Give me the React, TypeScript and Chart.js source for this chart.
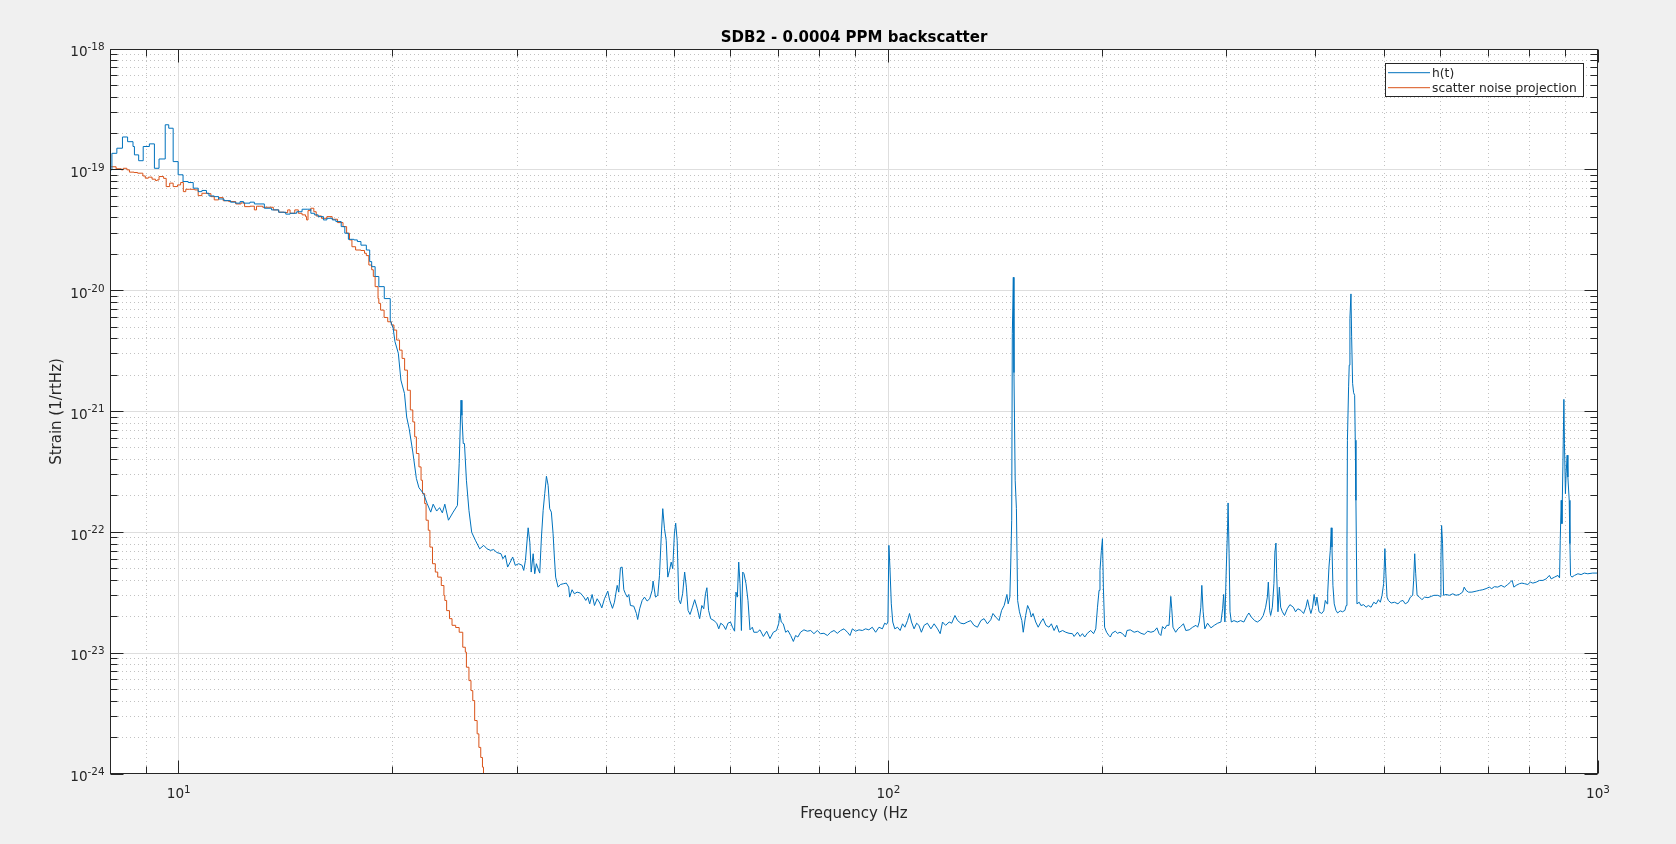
import React, { useEffect, useRef } from "react";
import { Chart, registerables } from "chart.js";

Chart.register(...registerables);

// ---------- text ----------
const TITLE = "SDB2 - 0.0004 PPM backscatter";
const X_LABEL = "Frequency (Hz";
const Y_LABEL = "Strain (1/rtHz)";
const SERIES_NAMES = ["h(t)", "scatter noise projection"];
const SERIES_COLORS = ["#0072BD", "#D95319"];

// ---------- axes ----------
const X_MIN = 8;
const X_MAX = 1000;
const Y_MIN = 1e-24;
const Y_MAX = 1e-18;
const X_MAJOR_TICKS = [10, 100, 1000];
const X_TICK_EXPONENTS = ["1", "2", "3"];
const X_MINOR_TICKS = [8, 9, 20, 30, 40, 50, 60, 70, 80, 90, 200, 300, 400, 500, 600, 700, 800, 900];
const Y_MAJOR_TICKS = [1e-24, 1e-23, 1e-22, 1e-21, 1e-20, 1e-19, 1e-18];
const Y_TICK_EXPONENTS = ["-24", "-23", "-22", "-21", "-20", "-19", "-18"];
const Y_MINOR_MANTISSAS = [2, 3, 4, 5, 6, 7, 8, 9];

// ---------- h(t) : [frequency Hz, strain 1/rtHz] ----------
const HT_8_20: [number, number][] = [
  [8.0, 1.0e-19], [8.05, 1.37e-19], [8.18, 1.51e-19], [8.33, 1.87e-19], [8.47, 1.71e-19],
  [8.62, 1.56e-19], [8.66, 1.33e-19], [8.78, 1.19e-19], [8.91, 1.56e-19], [9.09, 1.64e-19],
  [9.24, 1.03e-19], [9.38, 1.23e-19], [9.57, 2.36e-19], [9.68, 2.21e-19], [9.82, 1.17e-19],
  [9.98, 9.1e-20], [10.14, 8.0e-20], [10.31, 7.85e-20], [10.48, 7.05e-20], [10.65, 6.6e-20],
  [10.78, 6.75e-20], [10.94, 6.4e-20], [11.03, 6.08e-20], [11.22, 6.0e-20], [11.38, 5.74e-20],
  [11.58, 5.56e-20], [11.83, 5.4e-20], [12.03, 5.3e-20], [12.2, 5.46e-20], [12.34, 5.3e-20],
  [12.6, 5.4e-20], [12.78, 5.22e-20], [13.2, 4.81e-20], [13.51, 4.66e-20], [13.83, 4.46e-20],
  [14.15, 4.3e-20], [14.35, 4.37e-20], [14.66, 4.5e-20], [14.92, 4.72e-20], [15.17, 4.72e-20],
  [15.35, 4.37e-20], [15.53, 4.24e-20], [15.72, 4.1e-20], [15.99, 3.85e-20], [16.17, 3.97e-20],
  [16.46, 3.85e-20], [16.65, 3.73e-20], [16.94, 3.39e-20], [17.14, 2.99e-20], [17.34, 2.66e-20],
  [17.65, 2.63e-20], [17.85, 2.55e-20], [18.06, 2.38e-20], [18.38, 2.17e-20], [18.58, 1.74e-20],
  [18.7, 1.58e-20], [18.91, 1.31e-20], [19.14, 1.08e-20], [19.48, 8.6e-21],
];

const HT_20_35: [number, number][] = [
  [19.86, 5.7e-21], [20.05, 4.88e-21], [20.17, 3.78e-21], [20.39, 3.03e-21], [20.56, 1.82e-21],
  [20.8, 1.41e-21], [20.95, 9.0e-22], [21.12, 7.2e-22], [21.37, 4.62e-22], [21.62, 2.79e-22],
  [21.8, 2.34e-22], [22.13, 2.09e-22], [22.39, 1.73e-22], [22.65, 1.47e-22], [22.83, 1.71e-22],
  [23.09, 1.5e-22], [23.31, 1.6e-22], [23.52, 1.45e-22], [23.71, 1.71e-22], [23.99, 1.26e-22],
  [24.36, 1.47e-22], [24.7, 1.67e-22], [24.84, 3.7e-22], [24.99, 1.24e-21], [25.06, 9.3e-22],
  [25.17, 5.43e-22], [25.27, 5.43e-22], [25.43, 2.7e-22], [25.64, 1.52e-22], [25.87, 1.0e-22],
  [26.18, 8.6e-23], [26.55, 7.3e-23], [26.9, 7.8e-23], [27.19, 7.3e-23], [27.5, 7.09e-23],
  [27.78, 7.2e-23], [28.08, 6.8e-23], [28.45, 6.65e-23], [28.63, 6.05e-23], [28.85, 6.45e-23],
  [29.07, 5.16e-23], [29.32, 5.67e-23], [29.55, 6.25e-23], [29.8, 5.33e-23], [30.13, 5.5e-23],
  [30.47, 5.33e-23], [30.63, 4.84e-23], [30.8, 5.86e-23], [31.07, 1.09e-22], [31.24, 8.3e-23],
  [31.38, 4.69e-23], [31.58, 6.65e-23], [31.74, 4.54e-23], [31.91, 5.5e-23], [32.08, 5.0e-23],
  [32.26, 4.6e-23], [32.44, 9.15e-23], [32.62, 1.52e-22], [32.79, 2.09e-22], [32.97, 2.91e-22],
  [33.15, 2.45e-22], [33.32, 1.57e-22], [33.5, 1.47e-22], [33.69, 9.75e-23], [33.83, 6.25e-23],
  [33.97, 4.26e-23], [34.24, 3.52e-23], [34.5, 3.7e-23], [34.87, 3.76e-23],
];

const HT_35_100: [number, number][] = [
  [35.17, 3.8e-23], [35.44, 3.52e-23], [35.55, 2.91e-23], [35.83, 3.35e-23], [36.1, 3.1e-23],
  [36.42, 3.2e-23], [36.82, 3.14e-23], [37.22, 2.91e-23], [37.46, 2.73e-23], [37.7, 2.91e-23],
  [37.94, 2.56e-23], [38.24, 3.06e-23], [38.53, 2.48e-23], [38.87, 2.82e-23], [39.2, 2.6e-23],
  [39.46, 2.37e-23], [39.8, 2.82e-23], [40.23, 3.26e-23], [40.49, 2.73e-23], [40.85, 2.35e-23],
  [41.11, 2.64e-23], [41.48, 3.64e-23], [41.69, 3.2e-23], [41.92, 5.1e-23], [42.15, 5.16e-23],
  [42.38, 3.35e-23], [42.61, 3.1e-23], [42.85, 2.91e-23], [43.07, 3.06e-23], [43.3, 2.48e-23],
  [43.77, 2.45e-23], [44.15, 2.13e-23], [44.33, 1.9e-23], [44.62, 2.33e-23], [44.98, 2.73e-23],
  [45.32, 2.91e-23], [45.71, 2.7e-23], [46.09, 2.82e-23], [46.46, 3.31e-23], [46.6, 3.95e-23],
  [46.97, 2.91e-23], [47.32, 3.01e-23], [47.58, 4.4e-23], [47.85, 9.15e-23], [48.09, 1.57e-22],
  [48.36, 1.07e-22], [48.63, 8.59e-23], [48.88, 4.26e-23], [49.15, 4.84e-23], [49.42, 5.67e-23],
  [49.67, 5.0e-23], [49.94, 9.75e-23], [50.15, 1.19e-22], [50.39, 8.59e-23], [50.66, 2.77e-23],
  [50.95, 2.56e-23], [51.29, 3.1e-23], [51.63, 4.69e-23], [51.92, 3.52e-23], [52.2, 2.26e-23],
  [52.54, 2.09e-23], [52.95, 2.4e-23], [53.34, 2.77e-23], [53.8, 2.33e-23], [54.2, 1.93e-23],
  [54.59, 2.48e-23], [54.93, 2.33e-23], [55.24, 3.1e-23], [55.49, 3.48e-23], [55.8, 2.26e-23],
  [56.18, 1.93e-23], [56.79, 1.86e-23], [57.3, 1.77e-23], [57.67, 1.59e-23], [58.04, 1.77e-23],
  [58.55, 1.7e-23], [58.98, 1.57e-23], [59.41, 1.77e-23], [59.91, 1.81e-23], [60.3, 1.64e-23],
  [60.71, 1.52e-23], [60.98, 3.2e-23], [61.26, 2.91e-23], [61.53, 5.67e-23], [61.79, 3.76e-23],
  [62.07, 1.54e-23], [62.34, 4.69e-23], [62.6, 4.54e-23], [63.0, 3.76e-23], [63.41, 2.73e-23],
  [63.82, 1.56e-23], [64.31, 1.64e-23], [64.63, 1.49e-23], [65.35, 1.49e-23], [65.92, 1.56e-23],
  [66.66, 1.375e-23], [67.38, 1.52e-23], [68.1, 1.32e-23], [68.84, 1.49e-23], [69.56, 1.54e-23],
  [70.07, 1.77e-23], [70.31, 2.13e-23], [70.64, 1.81e-23], [71.1, 1.75e-23], [71.65, 1.49e-23],
  [72.19, 1.54e-23], [72.83, 1.4e-23], [73.47, 1.25e-23], [74.0, 1.4e-23], [74.55, 1.36e-23],
  [75.2, 1.49e-23], [76.03, 1.56e-23], [76.88, 1.52e-23], [77.71, 1.54e-23], [78.54, 1.45e-23],
  [79.4, 1.54e-23], [80.24, 1.45e-23], [81.13, 1.46e-23], [82.04, 1.4e-23], [82.93, 1.49e-23],
  [83.82, 1.54e-23], [84.73, 1.46e-23], [85.65, 1.54e-23], [86.59, 1.59e-23], [87.55, 1.49e-23],
  [88.29, 1.4e-23], [88.97, 1.59e-23], [89.9, 1.52e-23], [90.9, 1.56e-23], [91.9, 1.54e-23],
  [92.87, 1.59e-23], [93.86, 1.56e-23], [94.9, 1.64e-23], [95.95, 1.49e-23], [97.0, 1.64e-23],
  [98.07, 1.59e-23], [98.8, 1.77e-23], [99.43, 1.73e-23], [99.84, 1.81e-23],
];

const HT_100_200: [number, number][] = [
  [100.16, 7.8e-23], [100.5, 5.16e-23], [100.95, 2.56e-23], [101.43, 1.81e-23], [102.1, 1.59e-23],
  [103.0, 1.64e-23], [103.9, 1.54e-23], [104.7, 1.75e-23], [105.5, 1.64e-23], [106.4, 1.86e-23],
  [107.1, 2.13e-23], [107.8, 1.81e-23], [108.7, 1.59e-23], [109.6, 1.77e-23], [110.4, 1.7e-23],
  [111.3, 1.49e-23], [112.3, 1.7e-23], [113.5, 1.77e-23], [114.8, 1.59e-23], [116.0, 1.75e-23],
  [117.3, 1.59e-23], [118.3, 1.45e-23], [119.2, 1.81e-23], [120.4, 1.7e-23], [121.8, 1.81e-23],
  [122.8, 1.77e-23], [124.1, 2.05e-23], [125.2, 1.86e-23], [126.5, 1.77e-23], [127.8, 1.75e-23],
  [129.2, 1.81e-23], [130.6, 1.86e-23], [132.0, 1.7e-23], [133.5, 1.64e-23], [135.0, 1.86e-23],
  [136.4, 1.93e-23], [137.9, 1.75e-23], [139.4, 1.89e-23], [140.4, 2.13e-23], [141.7, 1.99e-23],
  [143.2, 1.86e-23], [144.4, 2.26e-23], [145.6, 2.48e-23], [146.9, 3.06e-23], [147.5, 2.56e-23],
  [148.3, 2.91e-23], [148.7, 5.16e-23], [149.2, 1.26e-22], [149.5, 4.4e-21], [150.0, 1.29e-20],
  [150.3, 2.1e-21], [150.9, 2.7e-22], [151.5, 1.57e-22], [152.1, 2.73e-23], [153.0, 2.2e-23],
  [154.2, 1.86e-23], [154.9, 1.49e-23], [156.1, 2.05e-23], [157.1, 2.48e-23], [158.2, 2.26e-23],
  [159.0, 1.99e-23], [159.9, 2.13e-23], [161.3, 1.81e-23], [162.6, 1.64e-23], [164.0, 1.81e-23],
  [165.2, 1.93e-23], [166.7, 1.7e-23], [168.4, 1.64e-23], [169.7, 1.75e-23], [171.2, 1.54e-23],
  [172.7, 1.7e-23], [174.0, 1.49e-23], [176.0, 1.54e-23], [177.8, 1.49e-23], [179.7, 1.46e-23],
  [181.7, 1.45e-23], [182.7, 1.375e-23], [184.7, 1.49e-23], [186.3, 1.375e-23], [187.7, 1.45e-23],
  [189.1, 1.36e-23], [190.7, 1.46e-23], [192.8, 1.54e-23], [194.6, 1.45e-23], [196.0, 1.59e-23],
  [197.1, 2.4e-23], [198.1, 3.31e-23], [198.7, 4.84e-23], [199.6, 7.09e-23],
];

const HT_200_400: [number, number][] = [
  [200.3, 8.87e-23], [200.9, 3.52e-23], [201.7, 1.64e-23], [203.0, 1.49e-23], [204.5, 1.4e-23],
  [205.5, 1.36e-23], [206.6, 1.46e-23], [208.8, 1.52e-23], [210.3, 1.46e-23], [212.0, 1.49e-23],
  [213.8, 1.45e-23], [215.8, 1.36e-23], [216.9, 1.54e-23], [219.2, 1.56e-23], [222.0, 1.49e-23],
  [224.5, 1.52e-23], [227.0, 1.46e-23], [229.4, 1.43e-23], [232.0, 1.52e-23], [234.4, 1.49e-23],
  [236.9, 1.52e-23], [239.0, 1.62e-23], [240.7, 1.45e-23], [242.1, 1.4e-23], [243.4, 1.66e-23],
  [245.2, 1.59e-23], [246.8, 1.7e-23], [248.6, 1.7e-23], [250.0, 2.95e-23], [250.8, 2.33e-23],
  [251.8, 1.64e-23], [254.0, 1.49e-23], [255.9, 1.59e-23], [258.1, 1.66e-23], [260.5, 1.75e-23],
  [262.5, 1.54e-23], [265.4, 1.56e-23], [268.4, 1.64e-23], [271.3, 1.7e-23], [272.8, 1.64e-23],
  [274.2, 1.81e-23], [275.6, 2.4e-23], [276.5, 3.64e-23], [277.7, 2.2e-23], [279.2, 1.59e-23],
  [281.7, 1.77e-23], [284.8, 1.62e-23], [287.9, 1.7e-23], [291.1, 1.77e-23], [294.2, 1.81e-23],
  [295.8, 2.33e-23], [296.8, 3.06e-23], [298.0, 1.81e-23], [299.2, 4.54e-23], [300.6, 1.11e-22],
  [301.1, 1.75e-22], [302.1, 6.65e-23], [303.0, 2.2e-23], [304.3, 1.81e-23], [306.9, 1.86e-23],
  [310.3, 1.81e-23], [313.6, 1.86e-23], [316.9, 1.81e-23], [320.4, 2.05e-23], [322.1, 2.15e-23],
  [324.7, 1.99e-23], [328.2, 1.86e-23], [331.1, 1.81e-23], [334.6, 1.89e-23], [337.5, 2.05e-23],
  [340.1, 2.4e-23], [342.0, 2.91e-23], [343.1, 3.87e-23], [344.6, 2.26e-23], [345.7, 2.05e-23],
  [347.6, 2.4e-23], [349.4, 3.76e-23], [350.5, 6.87e-23], [351.7, 8.15e-23], [352.5, 4.54e-23],
  [354.0, 2.2e-23], [355.6, 3.52e-23], [357.1, 2.4e-23], [359.1, 2.2e-23], [361.6, 2.05e-23],
  [364.9, 2.33e-23], [368.0, 2.52e-23], [372.1, 2.4e-23], [374.8, 2.2e-23], [377.6, 2.33e-23],
  [381.3, 2.26e-23], [384.7, 2.13e-23], [387.6, 2.4e-23], [389.7, 2.77e-23], [391.8, 2.4e-23],
  [393.9, 2.13e-23], [396.1, 2.4e-23], [398.1, 3.06e-23],
];

const HT_400_1000: [number, number][] = [
  [400.0, 2.48e-23], [401.7, 2.91e-23], [404.4, 2.2e-23], [408.0, 2.13e-23], [410.7, 2.24e-23],
  [412.8, 2.73e-23], [415.1, 2.56e-23], [416.0, 3.14e-23], [417.7, 5.16e-23], [419.5, 7.09e-23],
  [420.8, 1.09e-22], [421.8, 7.55e-23], [423.1, 3.64e-23], [424.9, 2.56e-23], [427.3, 2.26e-23],
  [429.6, 2.15e-23], [433.2, 2.24e-23], [436.5, 2.2e-23], [439.9, 2.26e-23], [441.7, 2.48e-23],
  [442.8, 7.09e-23], [443.5, 5.78e-22], [445.2, 1.6e-21], [446.1, 2.42e-21], [447.1, 5.9e-21],
  [448.6, 9.4e-21], [449.6, 4.15e-21], [451.0, 1.71e-21], [452.5, 1.43e-21], [454.0, 1.36e-21],
  [454.9, 5.78e-22], [455.9, 1.84e-22], [457.4, 2.56e-23], [460.8, 2.64e-23], [463.3, 2.48e-23],
  [467.5, 2.52e-23], [471.1, 2.4e-23], [474.6, 2.48e-23], [478.8, 2.4e-23], [483.1, 2.64e-23],
  [486.8, 2.56e-23], [490.4, 2.77e-23], [493.5, 2.64e-23], [496.2, 3.01e-23], [498.8, 3.76e-23],
  [500.8, 7.33e-23], [502.4, 4.54e-23], [504.3, 2.91e-23], [506.5, 2.73e-23], [511.1, 2.6e-23],
  [516.7, 2.64e-23], [522.5, 2.56e-23], [527.0, 2.69e-23], [531.1, 2.73e-23], [535.0, 2.56e-23],
  [539.6, 2.64e-23], [544.0, 2.91e-23], [548.1, 3.01e-23], [549.8, 4.0e-23], [551.7, 6.65e-23],
  [553.5, 4.54e-23], [556.0, 3.01e-23], [560.3, 2.91e-23], [564.8, 2.77e-23], [569.6, 2.91e-23],
  [576.0, 2.88e-23], [582.1, 2.95e-23], [587.1, 3.01e-23], [594.6, 3.01e-23], [599.4, 2.95e-23],
  [600.7, 5.78e-23], [602.0, 1.14e-22], [603.9, 8.06e-23], [605.9, 3.01e-23], [610.6, 3.06e-23],
  [617.3, 3.01e-23], [624.2, 3.1e-23], [630.9, 3.01e-23], [637.6, 3.06e-23], [644.5, 3.2e-23],
  [647.8, 3.52e-23], [651.7, 3.31e-23], [656.8, 3.2e-23], [664.2, 3.2e-23], [673.6, 3.26e-23],
  [680.8, 3.31e-23], [688.2, 3.35e-23], [695.4, 3.42e-23], [702.7, 3.52e-23], [708.3, 3.42e-23],
  [714.4, 3.55e-23], [722.4, 3.52e-23], [730.2, 3.64e-23], [738.0, 3.52e-23], [746.0, 3.7e-23],
  [752.6, 3.87e-23], [756.8, 4.0e-23], [761.1, 3.52e-23], [766.8, 3.64e-23], [775.1, 3.76e-23],
  [781.2, 3.8e-23], [787.7, 3.76e-23], [796.2, 3.7e-23], [802.9, 3.87e-23], [809.4, 3.8e-23],
  [818.3, 3.87e-23], [827.2, 4.0e-23], [836.3, 4.0e-23], [845.2, 4.12e-23], [854.0, 4.4e-23],
  [859.1, 4.12e-23], [868.5, 4.26e-23], [878.1, 4.4e-23], [882.7, 4.2e-23], [884.7, 8.59e-23],
  [887.5, 1.84e-22], [889.5, 1.18e-22], [892.3, 3.48e-22], [895.2, 1.26e-21], [896.9, 5.44e-22],
  [899.7, 2.09e-22], [901.7, 3.06e-22], [904.8, 4.35e-22], [906.9, 2.87e-22], [910.8, 1.84e-22],
  [912.9, 8.06e-23], [914.7, 4.4e-23], [918.9, 4.26e-23], [926.6, 4.4e-23], [936.8, 4.54e-23],
  [946.7, 4.47e-23], [956.6, 4.6e-23], [967.3, 4.54e-23], [983.1, 4.6e-23], [999.0, 4.6e-23],
];

// ---------- scatter noise projection ----------
const SCATTER_8_20: [number, number][] = [
  [8.02, 1.06e-19], [8.16, 1.02e-19], [8.3, 1.0e-19], [8.35, 1.03e-19], [8.45, 1.0e-19],
  [8.52, 9.57e-20], [8.65, 9.5e-20], [8.75, 9.38e-20], [8.85, 9.38e-20], [8.9, 8.9e-20],
  [8.97, 8.53e-20], [9.06, 8.7e-20], [9.17, 8.37e-20], [9.27, 8.15e-20], [9.32, 8.25e-20],
  [9.38, 8.8e-20], [9.52, 8.5e-20], [9.6, 7.27e-20], [9.71, 7.76e-20], [9.82, 7.27e-20],
  [9.96, 7.5e-20], [10.06, 7.85e-20], [10.15, 6.6e-20], [10.23, 6.9e-20], [10.35, 6.9e-20],
  [10.53, 6.82e-20], [10.65, 6.12e-20], [10.78, 6.4e-20], [10.97, 6.35e-20], [11.1, 6.0e-20],
  [11.22, 5.64e-20], [11.38, 5.89e-20], [11.55, 5.55e-20], [11.76, 5.46e-20], [12.03, 5.22e-20],
  [12.24, 5.33e-20], [12.38, 4.96e-20], [12.6, 5.0e-20], [12.78, 4.66e-20], [12.87, 5.0e-20],
  [13.13, 4.9e-20], [13.36, 4.9e-20], [13.59, 4.66e-20], [13.83, 4.46e-20], [14.07, 4.43e-20],
  [14.24, 4.66e-20], [14.35, 4.37e-20], [14.57, 4.66e-20], [14.74, 4.37e-20], [14.92, 4.24e-20],
  [15.09, 4.1e-20], [15.14, 3.85e-20], [15.21, 4.6e-20], [15.35, 4.81e-20], [15.5, 4.5e-20],
  [15.62, 4.15e-20], [15.89, 3.97e-20], [16.17, 4.1e-20], [16.45, 3.9e-20], [16.74, 3.66e-20],
  [17.04, 3.39e-20], [17.24, 2.99e-20], [17.4, 2.63e-20], [17.54, 2.31e-20], [17.75, 2.17e-20],
  [18.06, 2.15e-20], [18.27, 2.04e-20], [18.38, 1.95e-20], [18.53, 1.63e-20], [18.7, 1.49e-20],
  [18.8, 1.31e-20], [18.91, 1.08e-20], [19.09, 8.6e-21], [19.14, 7.85e-21], [19.25, 6.9e-21],
  [19.47, 6.0e-21], [19.7, 5.53e-21], [19.93, 5.2e-21],
];

const SCATTER_20_28: [number, number][] = [
  [20.1, 4.72e-21], [20.28, 3.9e-21], [20.47, 3.22e-21], [20.64, 2.75e-21], [20.81, 2.2e-21],
  [21.0, 1.5e-21], [21.2, 1.03e-21], [21.37, 8.2e-22], [21.5, 6.17e-22], [21.62, 4.49e-22],
  [21.8, 3.48e-22], [21.95, 2.7e-22], [22.05, 2.09e-22], [22.21, 1.73e-22], [22.31, 1.26e-22],
  [22.47, 1.04e-22], [22.59, 7.55e-23], [22.78, 5.5e-23], [22.99, 4.69e-23], [23.17, 4.26e-23],
  [23.44, 3.63e-23], [23.64, 3.0e-23], [23.71, 2.73e-23], [23.85, 2.25e-23], [24.07, 1.93e-23],
  [24.27, 1.7e-23], [24.56, 1.63e-23], [24.84, 1.49e-23], [25.13, 1.12e-23], [25.34, 1.02e-23],
  [25.43, 7.65e-24], [25.64, 5.93e-24], [25.81, 4.9e-24], [25.96, 4.05e-24], [26.12, 2.77e-24],
  [26.33, 2.15e-24], [26.48, 1.66e-24], [26.64, 1.37e-24], [26.79, 1.14e-24], [26.88, 1.0e-24],
  [27.12, 7.0e-25],
];

// low-frequency bins are wide enough to show as stairs; above ~20 Hz the trace reads as a line
const HT_STAIRS = [...HT_8_20, HT_20_35[0]];
const HT_LINE = [...HT_20_35, ...HT_35_100, ...HT_100_200, ...HT_200_400, ...HT_400_1000];
const SCATTER_SERIES = [...SCATTER_8_20, ...SCATTER_20_28];

// ---------- styling ----------
const FONT = '"DejaVu Sans", "Liberation Sans", sans-serif';
const AXIS_COLOR = "#262626";
const FIG_BG = "#f0f0f0";
const MAJOR_GRID = "#dedede";
const MINOR_GRID = "#c2c2c2";

const crisp = (p: number) => Math.floor(p) + 0.5;

function drawPower(ctx: CanvasRenderingContext2D, exp: string, x: number, baseY: number, supY: number, align: "right" | "center") {
  ctx.font = `13.6px ${FONT}`;
  const bw = ctx.measureText("10").width;
  ctx.font = `10.4px ${FONT}`;
  const ew = ctx.measureText(exp).width;
  const start = align === "right" ? x - bw - ew : x - (bw + ew) / 2;
  ctx.textAlign = "left";
  ctx.textBaseline = "alphabetic";
  ctx.font = `13.6px ${FONT}`;
  ctx.fillText("10", start, baseY);
  ctx.font = `10.4px ${FONT}`;
  ctx.fillText(exp, start + bw, supY);
}

const matlabAxes = {
  id: "matlabAxes",
  beforeDraw(chart: any) {
    const { ctx, chartArea: a, width, height } = chart;
    const xs = chart.scales.x;
    const ys = chart.scales.y;
    ctx.save();
    ctx.fillStyle = FIG_BG;
    ctx.fillRect(0, 0, width, height);
    ctx.fillStyle = "#ffffff";
    ctx.fillRect(a.left, a.top, a.right - a.left, a.bottom - a.top);

    ctx.lineWidth = 1;
    // minor grid (dotted)
    ctx.strokeStyle = MINOR_GRID;
    ctx.setLineDash([1, 3]);
    ctx.beginPath();
    X_MINOR_TICKS.forEach((v) => {
      const p = xs.getPixelForValue(v);
      if (p <= a.left + 1 || p >= a.right - 1) return;
      ctx.moveTo(crisp(p), a.top);
      ctx.lineTo(crisp(p), a.bottom);
    });
    Y_MAJOR_TICKS.forEach((d) => {
      Y_MINOR_MANTISSAS.forEach((m) => {
        const v = d * m;
        if (v >= Y_MAX) return;
        const p = ys.getPixelForValue(v);
        ctx.moveTo(a.left, crisp(p));
        ctx.lineTo(a.right, crisp(p));
      });
    });
    ctx.stroke();

    // major grid (solid)
    ctx.setLineDash([]);
    ctx.strokeStyle = MAJOR_GRID;
    ctx.beginPath();
    X_MAJOR_TICKS.forEach((v) => {
      const p = xs.getPixelForValue(v);
      if (p <= a.left + 1 || p >= a.right - 1) return;
      ctx.moveTo(crisp(p), a.top);
      ctx.lineTo(crisp(p), a.bottom);
    });
    Y_MAJOR_TICKS.forEach((v) => {
      const p = ys.getPixelForValue(v);
      if (p <= a.top + 1 || p >= a.bottom - 1) return;
      ctx.moveTo(a.left, crisp(p));
      ctx.lineTo(a.right, crisp(p));
    });
    ctx.stroke();
    ctx.restore();
  },
  afterDatasetsDraw(chart: any) {
    const { ctx, chartArea: a } = chart;
    const xs = chart.scales.x;
    const ys = chart.scales.y;
    const L = crisp(a.left), R = crisp(a.right - 1), T = crisp(a.top), B = crisp(a.bottom - 1);
    ctx.save();
    ctx.strokeStyle = AXIS_COLOR;
    ctx.lineWidth = 1;
    ctx.setLineDash([]);
    ctx.strokeRect(L, T, R - L, B - T);

    const MAJ = 13, MIN = 7;
    ctx.beginPath();
    const xTick = (v: number, len: number) => {
      const p = crisp(xs.getPixelForValue(v));
      ctx.moveTo(p, B); ctx.lineTo(p, B - len);
      ctx.moveTo(p, T); ctx.lineTo(p, T + len);
    };
    const yTick = (v: number, len: number) => {
      const p = crisp(ys.getPixelForValue(v));
      ctx.moveTo(L, p); ctx.lineTo(L + len, p);
      ctx.moveTo(R, p); ctx.lineTo(R - len, p);
    };
    X_MINOR_TICKS.forEach((v) => xTick(v, MIN));
    X_MAJOR_TICKS.forEach((v) => xTick(v, MAJ));
    Y_MAJOR_TICKS.forEach((d) => Y_MINOR_MANTISSAS.forEach((m) => { if (d * m < Y_MAX) yTick(d * m, MIN); }));
    Y_MAJOR_TICKS.forEach((v) => yTick(v, MAJ));
    ctx.stroke();

    // tick labels
    ctx.fillStyle = AXIS_COLOR;
    X_MAJOR_TICKS.forEach((v, i) => {
      const p = xs.getPixelForValue(v);
      drawPower(ctx, X_TICK_EXPONENTS[i], p, a.bottom + 24, a.bottom + 18.8, "center");
    });
    Y_MAJOR_TICKS.forEach((v, i) => {
      const p = ys.getPixelForValue(v);
      drawPower(ctx, Y_TICK_EXPONENTS[i], a.left - 5.5, p + 7.3, p + 0.9, "right");
    });

    // axis labels
    const cx = (a.left + a.right) / 2;
    const cy = (a.top + a.bottom) / 2;
    ctx.font = `15px ${FONT}`;
    ctx.textAlign = "center";
    ctx.textBaseline = "alphabetic";
    ctx.fillText(X_LABEL, cx, a.bottom + 43.5);
    ctx.save();
    ctx.translate(60.5, cy);
    ctx.rotate(-Math.PI / 2);
    ctx.fillText(Y_LABEL, 0, 0);
    ctx.restore();

    // title
    ctx.fillStyle = "#000000";
    ctx.font = `bold 15px ${FONT}`;
    ctx.fillText(TITLE, cx, a.top - 7);

    // legend
    const lx = 1385.5, ly = 63.5, lw = 198, lh = 33;
    ctx.fillStyle = "#ffffff";
    ctx.fillRect(lx, ly, lw, lh);
    ctx.strokeStyle = AXIS_COLOR;
    ctx.strokeRect(lx, ly, lw, lh);
    const rows = [72.7, 87.7];
    ctx.font = `12.3px ${FONT}`;
    ctx.textAlign = "left";
    SERIES_NAMES.forEach((name, i) => {
      ctx.strokeStyle = SERIES_COLORS[i];
      ctx.beginPath();
      ctx.moveTo(1388, rows[i]);
      ctx.lineTo(1430, rows[i]);
      ctx.stroke();
      ctx.fillStyle = AXIS_COLOR;
      ctx.fillText(name, 1432, rows[i] + 4.1);
    });
    ctx.restore();
  },
};

export default function App() {
  const canvasRef = useRef<HTMLCanvasElement | null>(null);

  useEffect(() => {
    document.body.style.margin = "0";
    document.body.style.background = FIG_BG;
    const canvas = canvasRef.current;
    if (!canvas) return;
    const common = { borderWidth: 1, pointRadius: 0, fill: false, clip: 0 };
    const chart = new Chart(canvas, {
      type: "line",
      data: {
        datasets: [
          {
            ...common,
            label: SERIES_NAMES[0],
            data: HT_STAIRS.map(([x, y]) => ({ x, y })),
            borderColor: SERIES_COLORS[0],
            stepped: true,
          },
          {
            ...common,
            label: SERIES_NAMES[0],
            data: HT_LINE.map(([x, y]) => ({ x, y })),
            borderColor: SERIES_COLORS[0],
          },
          {
            ...common,
            label: SERIES_NAMES[1],
            data: SCATTER_SERIES.map(([x, y]) => ({ x, y })),
            borderColor: SERIES_COLORS[1],
            stepped: true,
          },
        ],
      },
      options: {
        responsive: false,
        animation: false,
        devicePixelRatio: 1,
        layout: { padding: { left: 110, top: 49, right: 78, bottom: 70 } },
        scales: {
          x: { type: "logarithmic", min: X_MIN, max: X_MAX, display: false },
          y: { type: "logarithmic", min: Y_MIN, max: Y_MAX, display: false },
        },
        plugins: {
          legend: { display: false },
          title: { display: false },
          tooltip: { enabled: false },
        },
        events: [],
      },
      plugins: [matlabAxes],
    } as any);
    return () => chart.destroy();
  }, []);

  return (
    <canvas
      ref={canvasRef}
      width={1676}
      height={844}
      style={{ display: "block", width: 1676, height: 844 }}
    />
  );
}
